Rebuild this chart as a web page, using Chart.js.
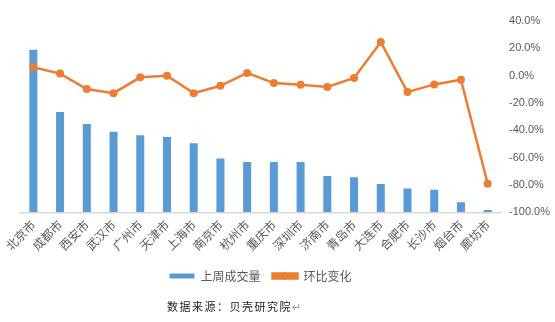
<!DOCTYPE html>
<html>
<head>
<meta charset="utf-8">
<script src="https://cdn.jsdelivr.net/npm/chart.js@4/dist/chart.umd.min.js"></script>
<style>
  body { margin: 0; background: #fff; }
  #wrap { position: relative; width: 555px; height: 322px; }
  #source {
    position: absolute; left: 167px; top: 298px;
    font-family: "Noto Sans CJK SC", sans-serif; font-size: 11px;
    letter-spacing: 1.5px; color: #222;
  }
</style>
</head>
<body>
<div id="wrap">
  <canvas id="chart" width="555" height="322"></canvas>
  <div id="source">数据来源：贝壳研究院<span style="color:#999">↵</span></div>
</div>
<script>
// cities, last week's volume (left axis hidden) and week-on-week change in %
const cities = ['北京市', '成都市', '西安市', '武汉市', '广州市', '天津市', '上海市', '南京市', '杭州市',
                '重庆市', '深圳市', '济南市', '青岛市', '大连市', '合肥市', '长沙市', '烟台市', '廊坊市'];
const volume = [1190, 734, 646, 589, 564, 552, 505, 394, 368, 368, 368, 266, 257, 207, 175, 165, 74, 17];
const change = [6.1, 1.5, -9.8, -12.8, -1.2, 0.0, -12.8, -7.4, 2.0, -5.4, -6.6, -8.3, -1.7, 24.6, -12.0, -6.4, -3.0, -79.0];

const grey = '#595959';

// draws the marker dot on the line legend item
const legendDot = {
  id: 'legendDot',
  afterDraw(chart) {
    const boxes = chart.legend.legendHitBoxes;
    if (!boxes || boxes.length < 2) return;
    const hb = boxes[1];
    const ctx = chart.ctx;
    ctx.save();
    ctx.fillStyle = '#ED7D31';
    ctx.beginPath();
    ctx.arc(hb.left + 12.5, hb.top + hb.height / 2, 3.5, 0, Math.PI * 2);
    ctx.fill();
    ctx.restore();
  }
};

new Chart(document.getElementById('chart').getContext('2d'), {
  data: {
    labels: cities,
    datasets: [
      {
        type: 'bar',
        label: '上周成交量',
        data: volume,
        backgroundColor: '#5B9BD5',
        yAxisID: 'y',
        barPercentage: 0.3,
        categoryPercentage: 1,
        order: 1
      },
      {
        type: 'line',
        label: '环比变化',
        data: change,
        borderColor: '#ED7D31',
        backgroundColor: '#ED7D31',
        borderWidth: 2.5,
        pointRadius: 4,
        pointBackgroundColor: '#ED7D31',
        pointBorderWidth: 0,
        yAxisID: 'y1',
        tension: 0,
        order: 0
      }
    ]
  },
  options: {
    responsive: false,
    animation: false,
    layout: { padding: { left: 20, right: -3, top: 21, bottom: 30 } },
    plugins: {
      tooltip: { enabled: false },
      legend: {
        position: 'bottom',
        fullSize: false,
        labels: {
          boxWidth: 25,
          boxHeight: 5,
          color: grey,
          padding: 12,
          font: { family: '"Noto Sans CJK SC", sans-serif', size: 12 },
          sort: (a, b) => a.datasetIndex - b.datasetIndex
        }
      }
    },
    scales: {
      x: {
        grid: { display: false, drawTicks: false },
        border: { display: true, color: '#d9d9d9', width: 1.5 },
        ticks: {
          color: grey,
          maxRotation: 45,
          minRotation: 45,
          autoSkip: false,
          padding: 5,
          font: { family: '"Noto Sans CJK SC", sans-serif', size: 12 }
        }
      },
      y: {
        display: false,
        min: 0,
        max: 1400
      },
      y1: {
        position: 'right',
        min: -100,
        max: 40,
        grid: { display: false, drawTicks: false },
        border: { display: false },
        ticks: {
          stepSize: 20,
          padding: 8,
          color: grey,
          font: { family: '"Liberation Sans", sans-serif', size: 11 },
          callback: (v) => v.toFixed(1) + '%'
        }
      }
    }
  },
  plugins: [legendDot]
});
</script>
</body>
</html>
